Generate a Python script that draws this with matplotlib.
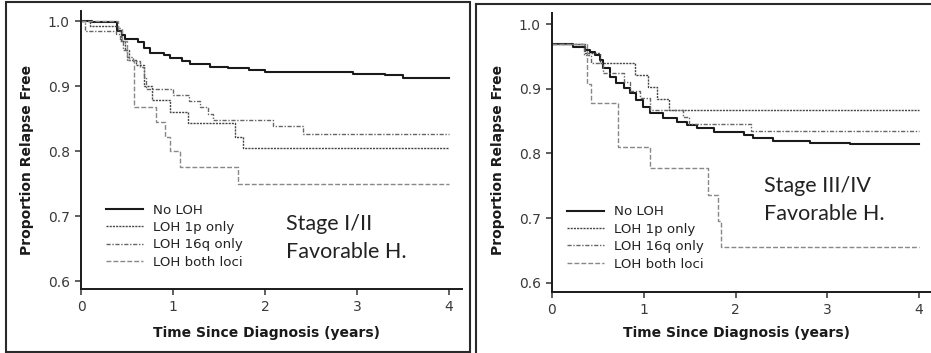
import matplotlib
matplotlib.use("Agg")
import matplotlib.pyplot as plt
from matplotlib import font_manager
from matplotlib.lines import Line2D

# ---------------------------------------------------------------- data
# Stage I/II favorable histology (left panel)
L_noloh_t = [0, 0.12, 0.39, 0.45, 0.48, 0.62, 0.68, 0.75, 0.9, 0.97, 1.1, 1.18, 1.4, 1.6, 1.83, 2.0, 2.96, 3.3, 3.5, 4.0]
L_noloh_s = [1.0, 0.998, 0.985, 0.978, 0.973, 0.968, 0.958, 0.951, 0.947, 0.943, 0.938, 0.934, 0.930, 0.928, 0.925, 0.921, 0.918, 0.917, 0.913, 0.913]
L_1p_t = [0, 0.1, 0.4, 0.44, 0.48, 0.52, 0.6, 0.68, 0.77, 0.97, 1.16, 1.67, 1.76, 4.0]
L_1p_s = [1.0, 0.993, 0.985, 0.97, 0.955, 0.94, 0.932, 0.9, 0.878, 0.86, 0.843, 0.822, 0.805, 0.805]
L_16q_t = [0, 0.04, 0.38, 0.42, 0.46, 0.5, 0.56, 0.64, 0.68, 0.71, 1.0, 1.17, 1.29, 1.38, 1.44, 2.09, 2.41, 4.0]
L_16q_s = [1.0, 0.985, 0.98, 0.97, 0.955, 0.945, 0.938, 0.93, 0.914, 0.896, 0.886, 0.877, 0.867, 0.857, 0.848, 0.838, 0.826, 0.826]
L_both_t = [0, 0.4, 0.45, 0.5, 0.58, 0.82, 0.91, 0.97, 1.075, 1.71, 4.0]
L_both_s = [1.0, 0.99, 0.97, 0.94, 0.868, 0.845, 0.822, 0.8, 0.775, 0.75, 0.75]

# Stage III/IV favorable histology (right panel)
R_noloh_t = [0, 0.09, 0.23, 0.36, 0.41, 0.47, 0.52, 0.56, 0.63, 0.70, 0.78, 0.85, 0.92, 0.99, 1.07, 1.21,
             1.36, 1.47, 1.58, 1.76, 2.09, 2.19, 2.41, 2.81, 3.25, 4.0]
R_noloh_s = [0.97, 0.969, 0.965, 0.96, 0.957, 0.952, 0.945, 0.932, 0.919, 0.909, 0.901, 0.893, 0.883, 0.872, 0.862, 0.855,
             0.849, 0.844, 0.839, 0.834, 0.829, 0.824, 0.82, 0.816, 0.815, 0.815]
R_1p_t = [0, 0.36, 0.52, 0.9, 1.05, 1.14, 1.27, 4.0]
R_1p_s = [0.97, 0.955, 0.94, 0.921, 0.903, 0.885, 0.867, 0.867]
R_16q_t = [0, 0.35, 0.42, 0.56, 0.78, 0.85, 0.96, 1.07, 1.43, 1.49, 2.17, 4.0]
R_16q_s = [0.97, 0.953, 0.94, 0.925, 0.91, 0.896, 0.886, 0.867, 0.857, 0.846, 0.835, 0.835]
R_both_t = [0, 0.38, 0.43, 0.72, 1.07, 1.70, 1.81, 1.84, 4.0]
R_both_s = [0.97, 0.908, 0.878, 0.81, 0.777, 0.735, 0.695, 0.655, 0.655]

group_labels = ["No LOH", "LOH 1p only", "LOH 16q only", "LOH both loci"]
panel_titles = [("Stage I/II", "Favorable H."), ("Stage III/IV", "Favorable H.")]
x_ticks = [0, 1, 2, 3, 4]
y_ticks = [0.6, 0.7, 0.8, 0.9, 1.0]

# ---------------------------------------------------------------- styles
STYLES = [
    dict(color="#1a1a1a", lw=1.5, ls="-"),
    dict(color="#454545", lw=1.0, ls=(0, (1.5, 0.8))),
    dict(color="#666666", lw=1.0, ls=(0, (3, 1.2, 1, 1.2))),
    dict(color="#888888", lw=1.0, ls=(0, (3.5, 1.5))),
]

names = {f.name for f in font_manager.fontManager.ttflist}
NARROW = "Liberation Sans Narrow" if "Liberation Sans Narrow" in names else "DejaVu Sans"
k = 1.0 if NARROW != "DejaVu Sans" else 0.8
STAGE_FONT = "Lato" if "Lato" in names else "DejaVu Sans"

fig = plt.figure(figsize=(9.31, 3.53), dpi=100)

# panel frames (scanned figure borders)
fig.add_artist(plt.Rectangle((6 / 931, 1 - 351.7 / 353), (469.5 - 6) / 931, (351.7 - 1.5) / 353,
                             transform=fig.transFigure, fill=False, ec="#2a2a2a", lw=1.5))
fig.add_artist(Line2D([476 / 931, 1.0], [1 - 4 / 353, 1 - 4 / 353], transform=fig.transFigure,
                      color="#2a2a2a", lw=1.5))
fig.add_artist(Line2D([476 / 931, 476 / 931], [1 - 4 / 353, 0.0], transform=fig.transFigure,
                      color="#2a2a2a", lw=1.5))

panels = [
    dict(rect=[81 / 931, 1 - 289 / 353, (462 - 81) / 931, (289 - 11) / 353],
         xlim=(0, 4.141), ylim=(0.5877, 1.0154),
         curves=[(L_noloh_t, L_noloh_s), (L_1p_t, L_1p_s), (L_16q_t, L_16q_s), (L_both_t, L_both_s)],
         ylab=(-0.142, 0.464), xlab=(0.488, -0.158), leg=(0.066, 0.307),
         stage=(0.538, 0.212, 0.112)),
    dict(rect=[552 / 931, 1 - 291.7 / 353, (931 - 552) / 931, (291.7 - 13) / 353],
         xlim=(0, 4.13), ylim=(0.586, 1.0175),
         curves=[(R_noloh_t, R_noloh_s), (R_1p_t, R_1p_s), (R_16q_t, R_16q_s), (R_both_t, R_both_s)],
         ylab=(-0.1425, 0.4726), xlab=(0.488, -0.148), leg=(0.04, 0.31),
         stage=(0.559, 0.358, 0.257)),
]

for p, title in zip(panels, panel_titles):
    ax = fig.add_axes(p["rect"])
    for (t, s), st, lab in zip(p["curves"], STYLES, group_labels):
        ax.step(t, s, where="post", label=lab, **st)

    ax.set_xlim(*p["xlim"])
    ax.set_ylim(*p["ylim"])
    ax.set_xticks(x_ticks)
    ax.set_yticks(y_ticks)
    ax.set_xticklabels([str(v) for v in x_ticks])
    ax.set_yticklabels([f"{v:.1f}" for v in y_ticks])
    for side in ("top", "right"):
        ax.spines[side].set_visible(False)
    for side in ("left", "bottom"):
        ax.spines[side].set_linewidth(1.4)
        ax.spines[side].set_color("#1a1a1a")
    ax.tick_params(direction="out", length=4, width=1.1, color="#333333",
                   labelsize=12.5 * k, labelcolor="#3a3a3a", pad=4)
    for lbl in ax.get_xticklabels() + ax.get_yticklabels():
        lbl.set_family(NARROW)

    ax.set_ylabel("Proportion Relapse Free", family=NARROW, fontweight="bold",
                  fontsize=12.5 * k, color="#1a1a1a")
    ax.yaxis.set_label_coords(*p["ylab"])
    ax.yaxis.label.set_verticalalignment("center")
    ax.set_xlabel("Time Since Diagnosis (years)", family=NARROW, fontweight="bold",
                  fontsize=12.5 * k, color="#1a1a1a")
    ax.xaxis.set_label_coords(*p["xlab"])
    ax.xaxis.label.set_verticalalignment("center")

    ax.legend(loc="upper left", bbox_to_anchor=p["leg"], frameon=False,
              prop=dict(family=NARROW, size=12 * k), handlelength=2.8,
              handletextpad=0.75, labelspacing=0.33, borderpad=0, borderaxespad=0,
              labelcolor="#222222")

    sx, sy1, sy2 = p["stage"]
    ax.text(sx, sy1, title[0], transform=ax.transAxes, family=STAGE_FONT,
            fontsize=15.5, color="#222222", va="baseline", ha="left")
    ax.text(sx, sy2, title[1], transform=ax.transAxes, family=STAGE_FONT,
            fontsize=15.5, color="#222222", va="baseline", ha="left")

fig.savefig("out.png", dpi=100)
